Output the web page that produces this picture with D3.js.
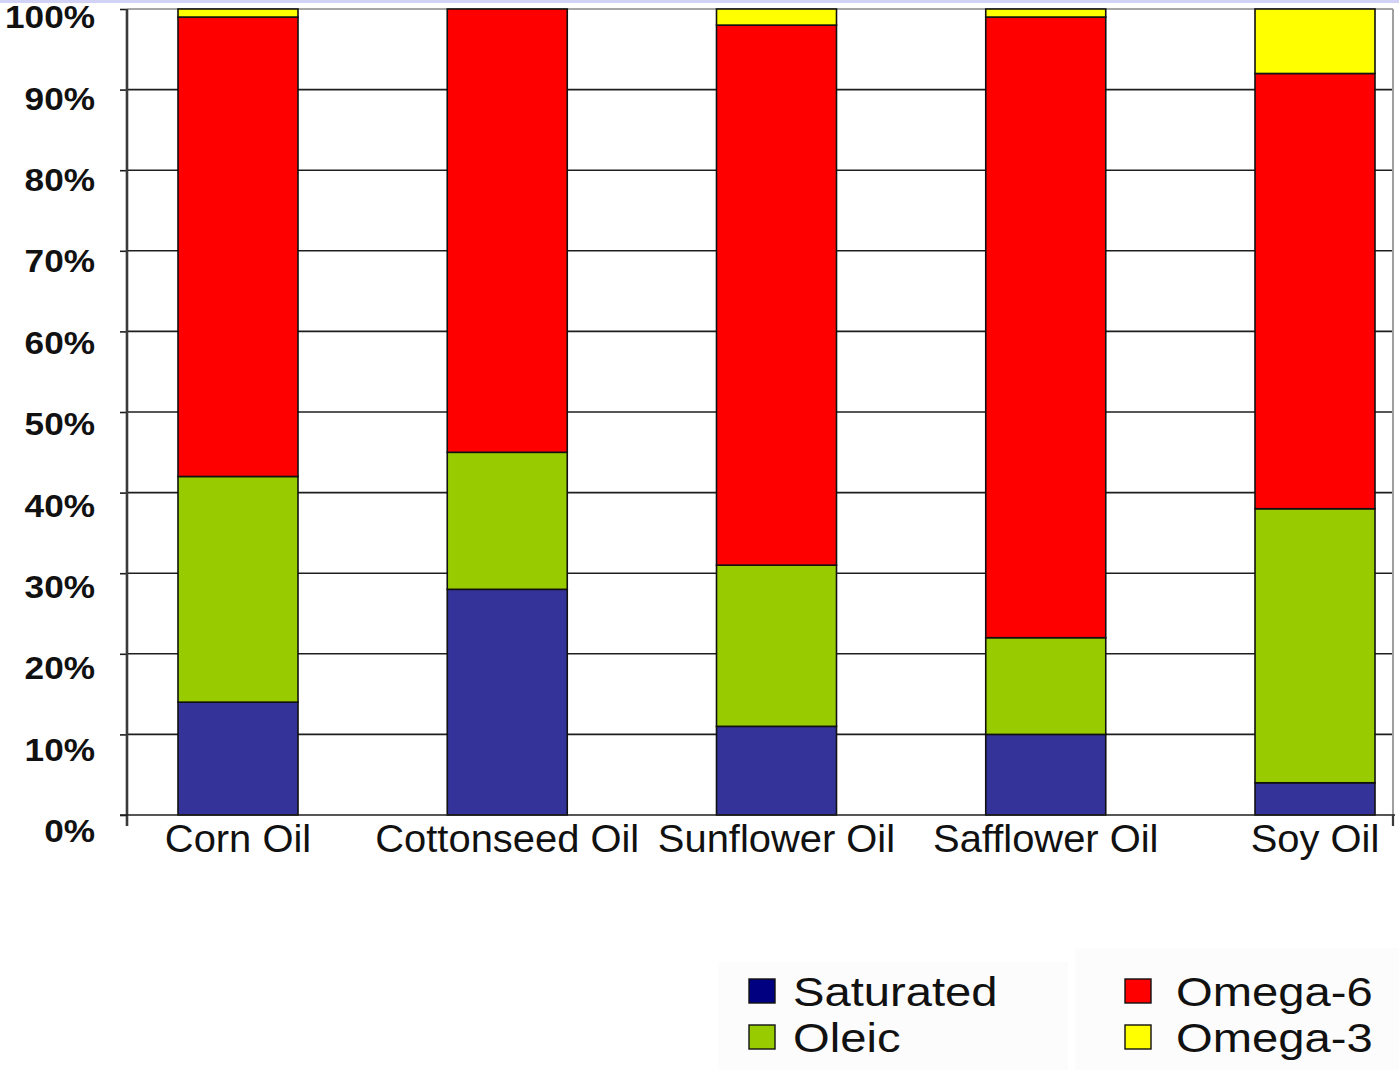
<!DOCTYPE html>
<html>
<head>
<meta charset="utf-8">
<script src="https://cdn.jsdelivr.net/npm/d3@7"></script>
<style>
  html, body { margin: 0; padding: 0; background: #fff; }
  svg { display: block; }
</style>
</head>
<body>
<svg id="chart" width="1399" height="1070"></svg>
<script>
// Fatty acid composition of common vegetable oils (% of total fat)
const oils = ["Corn Oil", "Cottonseed Oil", "Sunflower Oil", "Safflower Oil", "Soy Oil"];
const saturated = [14, 28, 11, 10, 4];
const oleic     = [28, 17, 20, 12, 34];
const omega6    = [57, 55, 67, 77, 54];
const omega3    = [1, 0, 2, 1, 8];

const seriesNames = ["Saturated", "Oleic", "Omega-6", "Omega-3"];
const barColors    = ["#333399", "#99cc00", "#ff0000", "#ffff00"];
const swatchColors = ["#000080", "#99cc00", "#ff0000", "#ffff00"];
const yTicks = [0, 10, 20, 30, 40, 50, 60, 70, 80, 90, 100];

const rows = oils.map((name, i) => ({
  name,
  "Saturated": saturated[i],
  "Oleic": oleic[i],
  "Omega-6": omega6[i],
  "Omega-3": omega3[i]
}));

const svg = d3.select("#chart");
const W = 1399, H = 1070;
const plotLeft = 127, plotRight = 1393, plotTop = 9, plotBottom = 815;

svg.append("rect").attr("width", W).attr("height", H).attr("fill", "#fff");
// thin lavender strip along the top edge
svg.append("rect").attr("x", 0).attr("y", 0).attr("width", W).attr("height", 3).attr("fill", "#d2d2f6");

const y = d3.scaleLinear().domain([0, 100]).range([plotBottom, plotTop]);
const yLabel = d3.scaleLinear().domain([0, 100]).range([plotBottom + 16, plotTop + 8]);
const x = d3.scalePoint().domain(oils).range([238, 1315]);
const barW = 120;

// horizontal gridlines
svg.append("g").selectAll("line")
  .data(yTicks.filter(t => t > 0))
  .join("line")
  .attr("x1", plotLeft).attr("x2", plotRight)
  .attr("y1", d => y(d)).attr("y2", d => y(d))
  .attr("stroke", d => d === 100 ? "#8a8a8a" : "#1e1e1e")
  .attr("stroke-width", 1.6);

// right border of the plot area
svg.append("line")
  .attr("x1", plotRight).attr("x2", plotRight)
  .attr("y1", y(100)).attr("y2", y(0))
  .attr("stroke", "#a0a0a0").attr("stroke-width", 2);

// stacked bars
const stack = d3.stack().keys(seriesNames)(rows);
svg.append("g").selectAll("g")
  .data(stack)
  .join("g")
  .attr("fill", (d, i) => barColors[i])
  .selectAll("rect")
  .data(d => d.filter(s => s[1] - s[0] > 0))
  .join("rect")
  .attr("x", d => x(d.data.name) - barW / 2)
  .attr("width", barW)
  .attr("y", d => y(d[1]))
  .attr("height", d => y(d[0]) - y(d[1]))
  .attr("stroke", "#111")
  .attr("stroke-width", 1.6);

// left axis with outward ticks
const yAxis = svg.append("g")
  .attr("transform", `translate(${plotLeft},0)`)
  .call(d3.axisLeft(y).tickValues(yTicks).tickSize(7).tickFormat("").tickSizeOuter(0));
yAxis.select(".domain").remove();
yAxis.selectAll(".tick line").attr("stroke", "#1e1e1e").attr("stroke-width", 1.6);
svg.append("line")
  .attr("x1", plotLeft).attr("x2", plotLeft)
  .attr("y1", plotTop).attr("y2", plotBottom + 11)
  .attr("stroke", "#3a3a3a").attr("stroke-width", 2.6);

// bottom axis line with end tick
svg.append("line")
  .attr("x1", plotLeft - 7).attr("x2", plotRight + 2)
  .attr("y1", plotBottom).attr("y2", plotBottom)
  .attr("stroke", "#1e1e1e").attr("stroke-width", 1.6);
svg.append("line")
  .attr("x1", plotRight).attr("x2", plotRight)
  .attr("y1", plotBottom).attr("y2", plotBottom + 11)
  .attr("stroke", "#3a3a3a").attr("stroke-width", 2.2);

// y tick labels
svg.append("g").selectAll("text")
  .data(yTicks)
  .join("text")
  .attr("x", 95)
  .attr("y", d => yLabel(d))
  .attr("dy", "0.35em")
  .attr("text-anchor", "end")
  .attr("font-family", "Liberation Sans, Arial, sans-serif")
  .attr("font-weight", "bold")
  .attr("font-size", 32)
  .attr("fill", "#111")
  .attr("transform", "translate(95,0) scale(1.1,1) translate(-95,0)")
  .text(d => d + "%");

// category labels
svg.append("g").selectAll("text")
  .data(oils)
  .join("text")
  .attr("x", d => x(d))
  .attr("y", 852)
  .attr("text-anchor", "middle")
  .attr("font-family", "Liberation Sans, Arial, sans-serif")
  .attr("font-size", 38)
  .attr("fill", "#111")
  .attr("transform", d => `translate(${x(d)},0) scale(1.05,1) translate(${-x(d)},0)`)
  .text(d => d);

// legend
const legendBoxes = [
  { x: 718, y: 962, w: 350, h: 108 },
  { x: 1075, y: 948, w: 324, h: 122 }
];
svg.append("g").selectAll("rect")
  .data(legendBoxes)
  .join("rect")
  .attr("x", d => d.x).attr("y", d => d.y)
  .attr("width", d => d.w).attr("height", d => d.h)
  .attr("fill", "#fcfcfc");

const legendPos = [
  { sx: 749, tx: 793, y: 979 },
  { sx: 749, tx: 793, y: 1025 },
  { sx: 1125, tx: 1176, y: 979 },
  { sx: 1125, tx: 1176, y: 1025 }
];
const legend = svg.append("g").selectAll("g")
  .data(seriesNames)
  .join("g");
legend.append("rect")
  .attr("x", (d, i) => legendPos[i].sx)
  .attr("y", (d, i) => legendPos[i].y)
  .attr("width", 26).attr("height", 24)
  .attr("fill", (d, i) => swatchColors[i])
  .attr("stroke", "#111").attr("stroke-width", 1.4);
legend.append("text")
  .attr("x", (d, i) => legendPos[i].tx)
  .attr("y", (d, i) => legendPos[i].y + 27)
  .attr("font-family", "Liberation Sans, Arial, sans-serif")
  .attr("font-size", 40)
  .attr("fill", "#111")
  .attr("transform", (d, i) => `translate(${legendPos[i].tx},0) scale(1.18,1) translate(${-legendPos[i].tx},0)`)
  .text(d => d);
</script>
</body>
</html>
